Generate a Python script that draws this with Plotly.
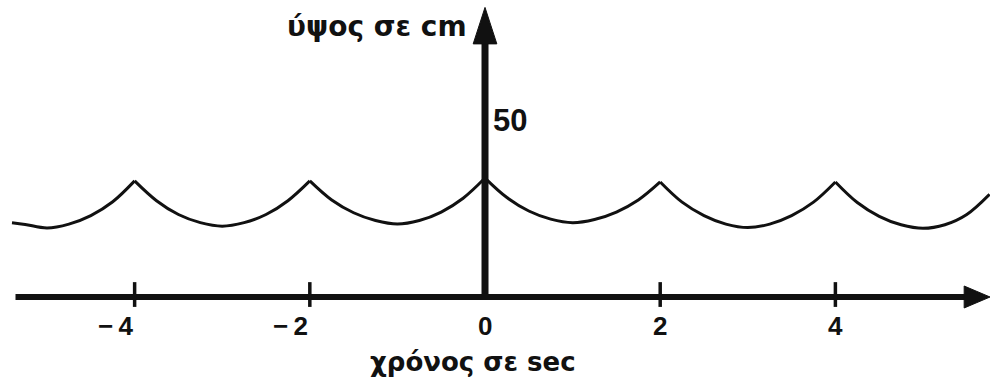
import plotly.graph_objects as go

# Wave height (cm) against time (s); crests are sharp cusps every 2 s
time_s = [-5.4, -5.25, -5.0, -4.75, -4.5, -4.25, -4.0,
          -3.75, -3.5, -3.25, -3.0, -2.75, -2.5, -2.25, -2.0,
          -1.75, -1.5, -1.25, -1.0, -0.75, -0.5, -0.25, 0.0,
          0.25, 0.5, 0.75, 1.0, 1.25, 1.5, 1.75, 2.0,
          2.25, 2.5, 2.75, 3.0, 3.25, 3.5, 3.75, 4.0,
          4.25, 4.5, 4.75, 5.0, 5.25, 5.5, 5.76]
height_cm = [21.0, 20.5, 19.5, 20.6, 23.0, 26.9, 32.8,
             27.2, 23.3, 21.0, 20.0, 21.0, 23.3, 27.2, 32.8,
             27.4, 23.8, 21.6, 20.6, 21.6, 24.0, 27.9, 33.6,
             28.1, 24.3, 22.0, 21.0, 21.9, 24.0, 27.4, 32.5,
             26.8, 23.0, 20.6, 19.6, 20.6, 23.0, 26.8, 32.5,
             26.7, 22.8, 20.4, 19.4, 20.4, 23.3, 29.0]
crest_s = [-4, -2, 0, 2, 4]

tick_s = [-4, -2, 0, 2, 4]
tick_text = ["\u2212\u20094", "\u2212\u20092", "0", "2", "4"]
y_tick_cm = 50
y_tick_text = "50"
x_title = "χρόνος σε sec"
y_title = "ύψος σε cm"

# axis geometry (data units)
X_RANGE = [-5.537, 5.765]
Y_RANGE = [-24.86, 83.9]
INK = "#111111"
FONT = "Liberation Sans, Arial, sans-serif"
TITLE_FONT = "DejaVu Sans, Liberation Sans, sans-serif"

# split the series at each crest so the spline keeps the cusps sharp
seg_x, seg_y = [], []
for t, h in zip(time_s, height_cm):
    seg_x.append(t)
    seg_y.append(h)
    if t in crest_s:
        seg_x += [None, t]
        seg_y += [None, h]

fig = go.Figure()
fig.add_trace(go.Scatter(
    x=seg_x, y=seg_y, mode="lines",
    line=dict(color=INK, width=3, shape="spline", smoothing=1.0),
    connectgaps=False, hoverinfo="skip", showlegend=False,
))

shapes = []
# horizontal time axis with arrowhead
shapes.append(dict(type="line", xref="x", yref="y", x0=-5.36, x1=5.5, y0=0, y1=0,
                   line=dict(color=INK, width=6)))
shapes.append(dict(type="path", xref="x", yref="y",
                   path="M 5.47,3.1 L 5.765,0 L 5.47,-3.1 Z",
                   fillcolor=INK, line=dict(color=INK, width=1)))
# vertical height axis with arrowhead
shapes.append(dict(type="line", xref="x", yref="y", x0=0, x1=0, y0=0, y1=73,
                   line=dict(color=INK, width=7)))
shapes.append(dict(type="path", xref="x", yref="y",
                   path="M -0.135,71.5 L 0,81.8 L 0.135,71.5 Z",
                   fillcolor=INK, line=dict(color=INK, width=1)))
# tick marks crossing the time axis
for t in tick_s:
    if t == 0:
        continue
    shapes.append(dict(type="line", xref="x", yref="y", x0=t, x1=t, y0=-2.8, y1=4.2,
                       line=dict(color=INK, width=3.5)))

annotations = []
for t, lab in zip(tick_s, tick_text):
    neg = lab.startswith("\u2212")
    annotations.append(dict(
        x=t, y=-8.2, xref="x", yref="y", text=lab, showarrow=False,
        xanchor="right" if neg else "center", yanchor="middle",
        xshift=0 if neg else 0,
        font=dict(family=FONT, size=26, color=INK, weight="bold"),
    ))
annotations.append(dict(
    x=0, y=y_tick_cm, xref="x", yref="y", text=y_tick_text, showarrow=False,
    xanchor="left", yanchor="middle", xshift=6,
    font=dict(family=FONT, size=31, color=INK, weight="bold"),
))
annotations.append(dict(
    x=0, y=76.3, xref="x", yref="y", text=y_title, showarrow=False,
    xanchor="right", yanchor="middle", xshift=-16,
    font=dict(family=TITLE_FONT, size=28, color=INK, weight="bold"),
))
annotations.append(dict(
    x=-0.14, y=-18.4, xref="x", yref="y", text=x_title, showarrow=False,
    xanchor="center", yanchor="middle",
    font=dict(family=TITLE_FONT, size=26, color=INK, weight="bold"),
))

fig.update_layout(
    width=990, height=385,
    margin=dict(l=0, r=0, t=0, b=0),
    paper_bgcolor="white", plot_bgcolor="white",
    xaxis=dict(range=X_RANGE, visible=False, fixedrange=True),
    yaxis=dict(range=Y_RANGE, visible=False, fixedrange=True),
    shapes=shapes, annotations=annotations,
    showlegend=False,
)

fig.write_html("out.html", config={"displayModeBar": False})
